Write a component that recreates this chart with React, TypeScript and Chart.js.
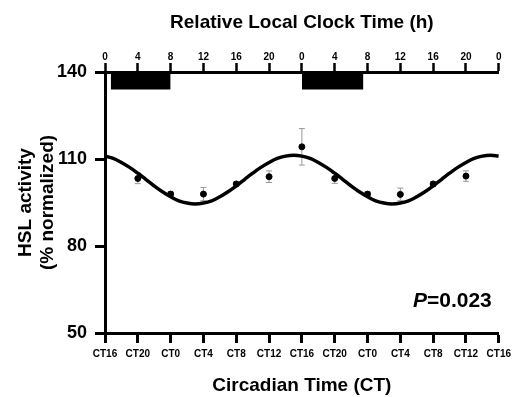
import { useEffect, useRef } from "react";
import { Chart, registerables } from "chart.js";

Chart.register(...registerables);

// Measured HSL activity (mean ± SEM) at 4-h sampling points
const sampleHours = [4, 8, 12, 16, 20, 24, 28, 32, 36, 40, 44];
const hslMean = [103.3, 97.9, 97.9, 101.4, 103.9, 114.2, 103.3, 97.9, 97.8, 101.4, 104.1];
const hslSem = [1.8, 0.8, 2.3, 0.8, 2.0, 6.3, 1.7, 0.8, 2.2, 0.8, 1.8];

// Fitted cosinor curve (hours 0..48)
const fitValues = [
  111.0, 110.2, 108.8, 107.1, 105.1, 102.9, 100.7, 98.7, 97.0, 95.6, 94.8, 94.5,
  94.8, 95.6, 97.0, 98.7, 100.7, 102.9, 105.1, 107.1, 108.8, 110.2, 111.0, 111.3,
  111.0, 110.2, 108.8, 107.1, 105.1, 102.9, 100.7, 98.7, 97.0, 95.6, 94.8, 94.5,
  94.8, 95.6, 97.0, 98.7, 100.7, 102.9, 105.1, 107.1, 108.8, 110.2, 111.0, 111.3,
  111.0,
];

// Tick labels
const ctLabels = ["CT16", "CT20", "CT0", "CT4", "CT8", "CT12", "CT16", "CT20", "CT0", "CT4", "CT8", "CT12", "CT16"];
const clockLabels = ["0", "4", "8", "12", "16", "20", "0", "4", "8", "12", "16", "20", "0"];

// Dark-phase bars (hours)
const darkStart = [0.7, 24];
const darkEnd = [8, 31.5];
const darkBottom = 134;
const yMin = 50;
const yMax = 140;
const yTicks = [50, 80, 110, 140];
const pValueText = "=0.023";

const FONT = "'Liberation Sans', Arial, sans-serif";

export default function App() {
  const ref = useRef<HTMLCanvasElement | null>(null);

  useEffect(() => {
    if (!ref.current) return;
    Chart.defaults.font.family = FONT;

    const errorBars = {
      id: "errorBars",
      beforeDatasetsDraw(chart: any) {
        const { ctx } = chart;
        const xs = chart.scales.x;
        const ys = chart.scales.y;
        ctx.save();
        ctx.strokeStyle = "#9a9a9a";
        ctx.lineWidth = 1;
        sampleHours.forEach((h, i) => {
          const px = xs.getPixelForValue(h);
          const top = ys.getPixelForValue(hslMean[i] + hslSem[i]);
          const bot = ys.getPixelForValue(hslMean[i] - hslSem[i]);
          ctx.beginPath();
          ctx.moveTo(px, top);
          ctx.lineTo(px, bot);
          ctx.moveTo(px - 3, top);
          ctx.lineTo(px + 3, top);
          ctx.moveTo(px - 3, bot);
          ctx.lineTo(px + 3, bot);
          ctx.stroke();
        });
        ctx.restore();
      },
    };

    const pLabel = {
      id: "pLabel",
      afterDraw(chart: any) {
        const { ctx, chartArea } = chart;
        ctx.save();
        ctx.fillStyle = "#000";
        ctx.textBaseline = "alphabetic";
        ctx.font = `bold 21px ${FONT}`;
        const restW = ctx.measureText(pValueText).width;
        ctx.font = `italic bold 21px ${FONT}`;
        const pW = ctx.measureText("P").width;
        const right = chartArea.right - 7;
        const base = chartArea.bottom - 26;
        ctx.textAlign = "left";
        ctx.fillText("P", right - restW - pW, base);
        ctx.font = `bold 21px ${FONT}`;
        ctx.fillText(pValueText, right - restW, base);
        ctx.restore();
      },
    };

    const darkSets = darkStart.map((s, i) => ({
      type: "line" as const,
      data: [
        { x: s, y: darkBottom },
        { x: darkEnd[i], y: darkBottom },
      ],
      borderColor: "rgba(0,0,0,0)",
      borderWidth: 0,
      backgroundColor: "#000",
      pointRadius: 0,
      fill: { value: yMax },
      xAxisID: "x",
      yAxisID: "y",
    }));

    const chart = new Chart(ref.current, {
      type: "scatter",
      data: {
        datasets: [
          {
            type: "scatter",
            data: sampleHours.map((h, i) => ({ x: h, y: hslMean[i] })),
            backgroundColor: "#000",
            borderColor: "#000",
            pointRadius: 3,
            pointHoverRadius: 3,
            xAxisID: "x",
            yAxisID: "y",
          },
          {
            type: "line",
            data: fitValues.map((v, i) => ({ x: i, y: v })),
            borderColor: "#000",
            borderWidth: 3.5,
            pointRadius: 0,
            tension: 0.4,
            fill: false,
            xAxisID: "x",
            yAxisID: "y",
          },
          ...darkSets,
        ] as any,
      },
      options: {
        animation: false,
        responsive: true,
        maintainAspectRatio: false,
        layout: { padding: { left: 0, right: 17, top: 0, bottom: 0 } },
        plugins: { legend: { display: false }, tooltip: { enabled: false } },
        scales: {
          x: {
            type: "linear",
            position: "bottom",
            min: 0,
            max: 48,
            afterFit: (s: any) => {
              s.height = 64;
            },
            ticks: {
              stepSize: 4,
              autoSkip: false,
              maxRotation: 0,
              padding: 5,
              color: "#000",
              font: { size: 10, weight: "bold" },
              callback: (v: any) => ctLabels[Math.round(Number(v) / 4)] ?? "",
            },
            grid: {
              drawOnChartArea: false,
              drawTicks: true,
              tickLength: 10,
              tickWidth: 3,
              tickColor: "#000",
              color: "#000",
            },
            border: { display: true, width: 3, color: "#000" },
            title: {
              display: true,
              text: "Circadian Time (CT)",
              color: "#000",
              font: { size: 19, weight: "bold" },
              padding: { top: 0, bottom: 0 },
            },
          },
          x2: {
            type: "linear",
            position: "top",
            min: 0,
            max: 48,
            afterFit: (s: any) => {
              s.height = 72;
            },
            ticks: {
              stepSize: 4,
              autoSkip: false,
              maxRotation: 0,
              padding: 0,
              color: "#000",
              font: { size: 10, weight: "bold" },
              callback: (v: any) => clockLabels[Math.round(Number(v) / 4)] ?? "",
            },
            grid: {
              drawOnChartArea: false,
              drawTicks: true,
              tickLength: 9,
              tickWidth: 2.5,
              tickColor: "#000",
              color: "#000",
            },
            border: { display: true, width: 3, color: "#000" },
            title: {
              display: true,
              text: "Relative Local Clock Time (h)",
              color: "#000",
              font: { size: 19, weight: "bold" },
              padding: { top: 11, bottom: 0 },
            },
          },
          y: {
            type: "linear",
            position: "left",
            min: yMin,
            max: yMax,
            afterFit: (s: any) => {
              s.width = 105;
            },
            afterBuildTicks: (s: any) => {
              s.ticks = yTicks.map((v) => ({ value: v }));
            },
            ticks: {
              padding: 8,
              color: "#000",
              font: { size: 18, weight: "bold" },
            },
            grid: {
              drawOnChartArea: false,
              drawTicks: true,
              tickLength: 10,
              tickWidth: 3,
              tickColor: "#000",
              color: "#000",
            },
            border: { display: true, width: 3, color: "#000" },
            title: {
              display: true,
              text: ["HSL activity", "(% normalized)"],
              color: "#000",
              font: { size: 19, weight: "bold", lineHeight: 1.2 },
              padding: { top: 14, bottom: 0 },
            },
          },
        },
      } as any,
      plugins: [errorBars, pLabel],
    });

    return () => chart.destroy();
  }, []);

  return (
    <div style={{ position: "fixed", left: 0, top: 0, width: 516, height: 397, background: "#fff" }}>
      <canvas ref={ref} />
    </div>
  );
}
